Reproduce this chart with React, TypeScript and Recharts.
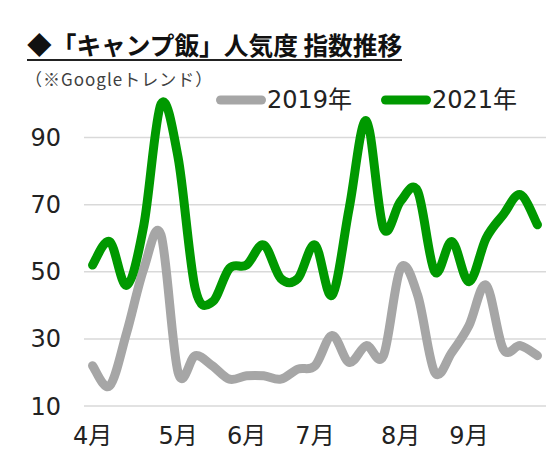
import React from 'react';
import { LineChart, Line, XAxis, YAxis, CartesianGrid } from 'recharts';

// weekly categories (27 weeks)
const weeks = [
  'w01', 'w02', 'w03', 'w04', 'w05', 'w06', 'w07', 'w08', 'w09',
  'w10', 'w11', 'w12', 'w13', 'w14', 'w15', 'w16', 'w17', 'w18',
  'w19', 'w20', 'w21', 'w22', 'w23', 'w24', 'w25', 'w26', 'w27',
];

const values2019 = [22, 16, 32, 51, 61, 20, 25, 22, 18, 19, 19, 18, 21, 22, 31, 23, 28, 25, 51, 43, 20, 26, 34, 46, 27, 28, 25];
const values2021 = [52, 59, 46, 64, 100, 84, 45, 41, 51, 52, 58, 48, 48, 58, 43, 69, 95, 63, 71, 74, 50, 59, 47, 60, 67, 73, 64];

const yTicks = [10, 30, 50, 70, 90];
const monthTickWeeks = ['w01', 'w06', 'w10', 'w14', 'w19', 'w23'];
const monthLabels = ['4月', '5月', '6月', '7月', '8月', '9月'];

const seriesNames = ['2019年', '2021年'];
const seriesColors = ['#A6A6A6', '#009900'];

const data = weeks.map((w, i) => ({ week: w, y2019: values2019[i], y2021: values2021[i] }));

const FONT = "'DejaVu Sans', 'Noto Sans CJK JP', sans-serif";
const JP = "'Noto Sans CJK JP', sans-serif";

// Catmull-Rom style smoothing similar to spreadsheet "smoothed line"
function smoothCurve(context: any) {
  let pts: number[][] = [];
  return {
    areaStart() {},
    areaEnd() {},
    lineStart() {
      pts = [];
    },
    point(x: number, y: number) {
      pts.push([+x, +y]);
    },
    lineEnd() {
      const n = pts.length;
      if (!n) return;
      context.moveTo(pts[0][0], pts[0][1]);
      const k = 1 / 6;
      for (let i = 0; i < n - 1; i++) {
        const p0 = pts[i - 1] || pts[i];
        const p1 = pts[i];
        const p2 = pts[i + 1];
        const p3 = pts[i + 2] || p2;
        context.bezierCurveTo(
          p1[0] + (p2[0] - p0[0]) * k,
          p1[1] + (p2[1] - p0[1]) * k,
          p2[0] - (p3[0] - p1[0]) * k,
          p2[1] - (p3[1] - p1[1]) * k,
          p2[0],
          p2[1]
        );
      }
    },
  };
}

function LegendItem({ left, color, label }: { left: number; color: string; label: string }) {
  return (
    <div style={{ position: 'absolute', left, top: 0, height: 30, display: 'flex', alignItems: 'center' }}>
      <svg width={50} height={30} style={{ display: 'block' }}>
        <line x1={4.5} y1={15} x2={45.5} y2={15} stroke={color} strokeWidth={9} strokeLinecap="round" />
      </svg>
      <span style={{ fontFamily: FONT, fontSize: 24, color: '#222', lineHeight: '30px', marginLeft: 1 }}>{label}</span>
    </div>
  );
}

export default function App() {
  return (
    <div style={{ position: 'absolute', left: 0, top: 0, width: 557, height: 461, background: '#fff', overflow: 'hidden' }}>
      <div
        style={{
          position: 'absolute',
          left: 27,
          top: 29,
          fontFamily: JP,
          fontWeight: 700,
          fontSize: 24.7,
          lineHeight: '30px',
          color: '#111',
          whiteSpace: 'nowrap',
          borderBottom: '2px solid #222',
        }}
      >
        ◆「キャンプ飯」人気度 指数推移
      </div>
      <div
        style={{
          position: 'absolute',
          left: 25,
          top: 69,
          fontFamily: JP,
          fontSize: 17,
          letterSpacing: 1,
          lineHeight: '20px',
          color: '#404040',
          whiteSpace: 'nowrap',
        }}
      >
        （※Googleトレンド）
      </div>
      <div style={{ position: 'absolute', left: 0, top: 85, width: 557, height: 30 }}>
        <LegendItem left={216} color={seriesColors[0]} label={seriesNames[0]} />
        <LegendItem left={381} color={seriesColors[1]} label={seriesNames[1]} />
      </div>
      <div style={{ position: 'absolute', left: 0, top: 0 }}>
        <LineChart width={557} height={461} data={data} margin={{ top: 104, right: 11, bottom: 0, left: 0 }}>
          <CartesianGrid vertical={false} horizontalValues={yTicks} stroke="#D9D9D9" strokeWidth={1.5} />
          <XAxis
            dataKey="week"
            ticks={monthTickWeeks}
            interval={0}
            tickFormatter={(v: string) => {
              const idx = monthTickWeeks.indexOf(v);
              return idx >= 0 ? monthLabels[idx] : '';
            }}
            axisLine={false}
            tickLine={false}
            tickSize={0}
            tickMargin={21}
            height={55}
            padding={{ left: 8.55, right: 8.55 }}
            tick={{ fontSize: 24, fill: '#222', fontFamily: FONT }}
          />
          <YAxis
            domain={[10, 100]}
            ticks={yTicks}
            interval={0}
            axisLine={false}
            tickLine={false}
            tickSize={0}
            tickMargin={23}
            width={84}
            tick={{ fontSize: 24, fill: '#222', fontFamily: FONT }}
          />
          <Line
            type={smoothCurve as any}
            dataKey="y2019"
            name={seriesNames[0]}
            stroke={seriesColors[0]}
            strokeWidth={9}
            strokeLinecap="round"
            strokeLinejoin="round"
            dot={false}
            activeDot={false}
            isAnimationActive={false}
          />
          <Line
            type={smoothCurve as any}
            dataKey="y2021"
            name={seriesNames[1]}
            stroke={seriesColors[1]}
            strokeWidth={9}
            strokeLinecap="round"
            strokeLinejoin="round"
            dot={false}
            activeDot={false}
            isAnimationActive={false}
          />
        </LineChart>
      </div>
    </div>
  );
}
